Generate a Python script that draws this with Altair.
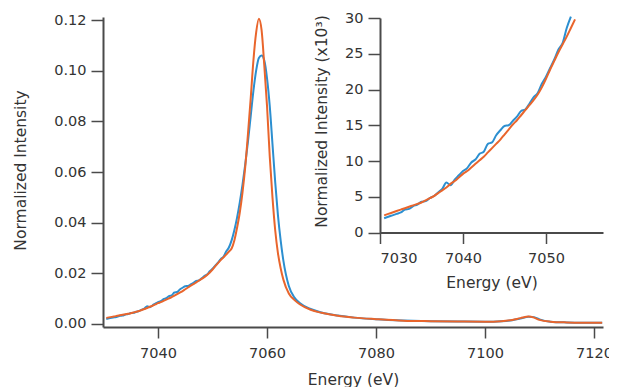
import altair as alt
import pandas as pd

# Energy grid (eV)
energy = [
    7030.5, 7031, 7031.5, 7032, 7032.5, 7033, 7033.5, 7034, 7034.5, 7035,
    7035.5, 7036, 7036.5, 7037, 7037.5, 7038, 7038.5, 7039, 7039.5, 7040,
    7040.5, 7041, 7041.5, 7042, 7042.5, 7043, 7043.5, 7044, 7044.5, 7045,
    7045.5, 7046, 7046.5, 7047, 7047.5, 7048, 7048.5, 7049, 7049.5, 7050,
    7050.5, 7051, 7051.5, 7052, 7052.5, 7053, 7053.5, 7054, 7054.5, 7055,
    7055.5, 7056, 7056.5, 7057, 7057.5, 7058, 7058.5, 7059, 7059.5, 7060,
    7060.5, 7061, 7061.5, 7062, 7062.5, 7063, 7064, 7065, 7066, 7068,
    7070, 7073, 7076, 7080, 7085, 7090, 7095, 7100, 7103, 7105,
    7106.5, 7108, 7109, 7110, 7112, 7115, 7118, 7121.5,
]

# Normalized intensity, in units of 10^-3
blue = [
    2.0, 2.2, 2.4, 2.6, 2.8, 3.2, 3.3, 3.7, 3.9, 4.3,
    4.4, 4.8, 5.1, 5.6, 6.1, 7.0, 6.6, 7.4, 8.0, 8.6,
    9.0, 9.8, 10.2, 11.0, 11.3, 12.4, 12.6, 13.6, 14.3, 14.9,
    15.0, 15.6, 16.2, 17.0, 17.2, 18.0, 18.9, 19.5, 20.8, 21.8,
    23.0, 24.2, 25.6, 26.5, 28.6, 30.2, 33.0, 37.0, 42.0, 48.0,
    55.0, 63.0, 72.0, 82.0, 92.0, 100.0, 105.0, 106.0, 104.0, 97.0,
    86.0, 71.0, 56.0, 43.0, 33.0, 25.0, 15.0, 10.5, 8.3, 5.9,
    4.5, 3.3, 2.5, 1.9, 1.4, 1.1, 1.0, 0.9, 1.1, 1.5,
    2.1, 2.8, 2.7, 1.8, 0.9, 0.6, 0.5, 0.5,
]

orange = [
    2.4, 2.6, 2.8, 3.0, 3.2, 3.4, 3.6, 3.8, 4.0, 4.2,
    4.5, 4.8, 5.1, 5.5, 5.9, 6.3, 6.8, 7.2, 7.7, 8.2,
    8.6, 9.1, 9.6, 10.1, 10.6, 11.2, 11.8, 12.4, 13.0, 13.7,
    14.4, 15.1, 15.7, 16.4, 17.1, 17.8, 18.5, 19.3, 20.3, 21.5,
    22.8, 24.0, 25.2, 26.3, 27.4, 28.6, 29.8, 33.0, 38.0, 44.0,
    52.0, 62.0, 75.0, 89.0, 104.0, 115.0, 120.5, 116.0, 102.0, 86.0,
    66.0, 50.0, 37.0, 28.0, 22.0, 17.5, 12.0, 9.5, 7.8, 5.6,
    4.4, 3.2, 2.5, 1.9, 1.3, 1.1, 1.0, 0.9, 1.1, 1.6,
    2.3, 2.9, 2.5, 1.6, 0.9, 0.6, 0.5, 0.5,
]

series_names = ["Spectrum 1", "Spectrum 2"]
series_colors = ["#2c8fd0", "#e9652c"]

main_x_ticks = [7040, 7060, 7080, 7100, 7120]
main_y_ticks = [0.0, 0.02, 0.04, 0.06, 0.08, 0.10, 0.12]
inset_x_ticks = [7030, 7040, 7050]
inset_y_ticks = [0, 5, 10, 15, 20, 25, 30]

rows = []
for name, vals in zip(series_names, (blue, orange)):
    for e, v in zip(energy, vals):
        rows.append({"series": name, "energy": e, "v": v})
df = pd.DataFrame(rows)

AX = "#4a4a4a"
FONT = "DejaVu Sans"

color = alt.Color(
    "series:N",
    scale=alt.Scale(domain=series_names, range=series_colors),
    legend=None,
)

main = (
    alt.Chart(df)
    .transform_calculate(norm="datum.v / 1000")
    .mark_line(strokeWidth=2, interpolate="monotone", clip=True)
    .encode(
        x=alt.X(
            "energy:Q",
            scale=alt.Scale(domain=[7029.9, 7121.65], nice=False, zero=False),
            axis=alt.Axis(
                orient="bottom", values=main_x_ticks, format="d",
                title="Energy (eV)", tickSize=11, labelPadding=8,
                titleY=45, titleBaseline="top",
            ),
        ),
        y=alt.Y(
            "norm:Q",
            scale=alt.Scale(domain=[-0.0012, 0.1212], nice=False, zero=False),
            axis=alt.Axis(
                orient="left", values=main_y_ticks, format=".2f",
                title="Normalized Intensity", tickSize=12, labelPadding=5,
                titleX=-75, titleY=153, titleAngle=270,
                titleBaseline="bottom", titleAlign="center",
            ),
        ),
        color=color,
    )
)

inset = (
    alt.Chart(df)
    .transform_filter("datum.energy <= 7054 && datum.v <= 30.5")
    .mark_line(strokeWidth=2, interpolate="monotone")
    .encode(
        x=alt.X(
            "energy:Q",
            scale=alt.Scale(domain=[7030, 7056.87], range=[277, 500], nice=False, zero=False),
            axis=alt.Axis(
                orient="bottom", offset=-94.5, values=inset_x_ticks, format="d",
                title="Energy (eV)", tickSize=11, labelPadding=8,
                titleY=43, titleBaseline="top",
            ),
        ),
        y=alt.Y(
            "v:Q",
            scale=alt.Scale(domain=[0, 30], range=[215.5, 1], nice=False, zero=False),
            axis=alt.Axis(
                orient="left", offset=-277, values=inset_y_ticks, format="d",
                title="Normalized Intensity (x10³)", tickSize=12, labelPadding=5,
                titleX=-51, titleY=104, titleAngle=270,
                titleBaseline="bottom", titleAlign="center",
            ),
        ),
        color=color,
    )
)

chart = (
    alt.layer(main, inset)
    .resolve_scale(x="independent", y="independent")
    .properties(
        width=500,
        height=310,
        autosize=alt.AutoSizeParams(type="none"),
        padding={"left": 95, "top": 9, "right": 6, "bottom": 60},
        background="white",
    )
    .configure_view(stroke=None)
    .configure_axis(
        grid=False,
        domainColor=AX,
        domainWidth=2,
        tickColor=AX,
        tickWidth=1.5,
        labelColor="#333333",
        labelFont=FONT,
        labelFontSize=14.5,
        titleColor="#333333",
        titleFont=FONT,
        titleFontSize=15.5,
        titleFontWeight="normal",
    )
)

chart.save("out.html", embed_options={"renderer": "svg", "actions": False})
